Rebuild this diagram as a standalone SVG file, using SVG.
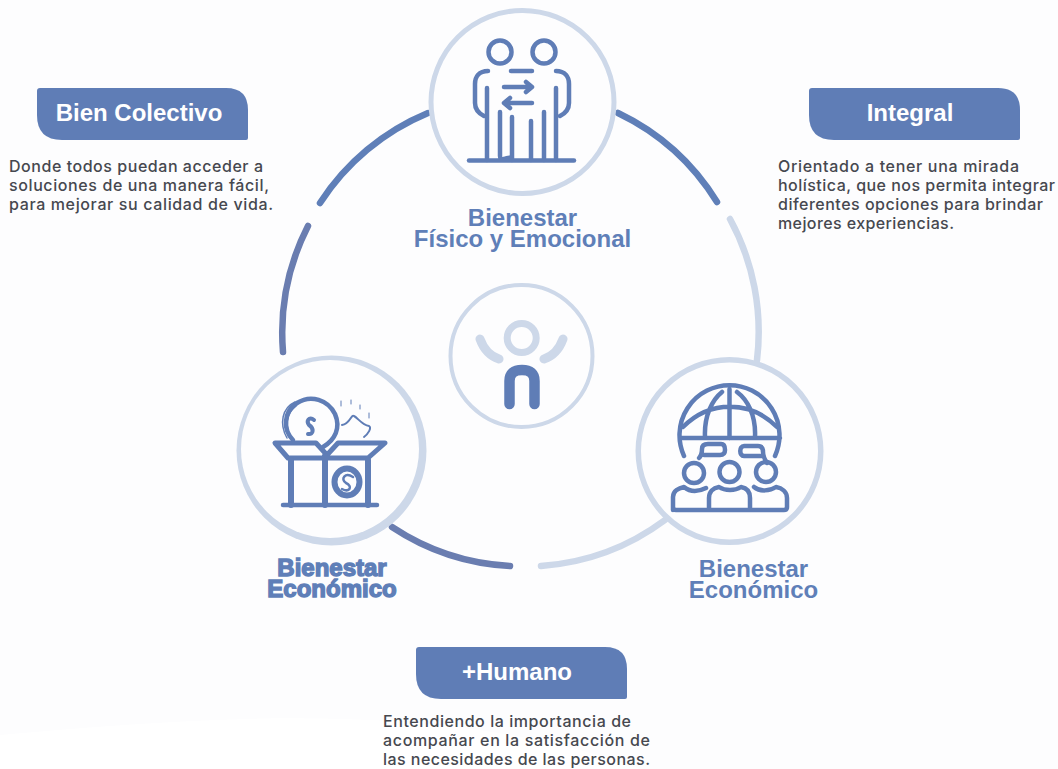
<svg xmlns="http://www.w3.org/2000/svg" width="1058" height="769" viewBox="0 0 1058 769">
<style>
.arc{fill:none;stroke-width:6.5;stroke-linecap:round}
.d{stroke:#5f7fb8}.p{stroke:#6a7db0}.l{stroke:#cdd8e9}
.ring{fill:#fdfdfe;stroke:#cdd8e9}
.ic{fill:none;stroke:#5f7db6;stroke-width:4.5;stroke-linecap:round;stroke-linejoin:round}
.box{fill:#5f7db6}
.bt{font:bold 24px "Liberation Sans",Arial,sans-serif;fill:#fff;text-anchor:middle}
.lab{font:bold 24px "Liberation Sans",Arial,sans-serif;fill:#5f7fb8;text-anchor:middle}
.body{font:500 16px Inter,"Open Sans",sans-serif;fill:#46484f}
</style>
<rect width="1058" height="769" fill="#fdfdfe"/>
<path d="M0 769V735C220 715 450 700 640 769Z" fill="#ffffff"/>
<g id="connectors">
<path class="arc d" d="M428 113A236 236 0 0 0 320 203"/>
<path class="arc d" d="M618 113A236 236 0 0 1 717 202"/>
<path class="arc l" d="M730 219A236 236 0 0 1 757 360"/>
<path class="arc l" d="M665 520A236 236 0 0 1 541 566"/>
<path class="arc p" d="M392 527A236 236 0 0 0 510 566"/>
<path class="arc p" d="M308 226A236 236 0 0 0 283 352"/>
</g>
<g id="node-fisico">
<circle class="ring" cx="522.500" cy="102" r="91.500" stroke-width="5"/>
<g class="ic">
<circle cx="500" cy="52" r="11.500"/><circle cx="544" cy="52" r="11.500"/>
<path d="M488 71C479 71 475 77 475 84V103C475 109 478 113 484 116M511 71H532M556 71C565 71 569 77 569 84V103C569 109 566 113 560 116"/>
<path d="M487 88V160M500 112V156Q500 160 504 159Q508 157 512 158M512 117V160M531 121V160M544 112V160M556 88V160"/>
<path d="M469 160.500H574"/>
<path d="M504 87H531M526 82L532 87L526 92M532 103H505M510 98L504 103L510 108"/>
</g>
</g>
<g id="node-economico-left">
<circle cx="331.500" cy="450.500" r="95" fill="#cdd8e9"/>
<circle cx="330" cy="449" r="89" fill="#fdfdfe"/>
<g class="ic">
<path d="M293 440C283 430 283 412 297 403C311 394 328 400 335 414C341 428 335 440 323 447"/>
<path d="M287 438C279 424 282 408 295 402M291 438C285 426 286 414 296 406" style="stroke-width:1.500"/>
<path d="M314 420C309 416 306 421 309 425C314 428 314 435 308 434" style="stroke-width:4"/>
<path d="M275 443H316L327 455L338 443H385L368 458H288Z" style="stroke-width:5"/>
<path d="M291 460V505M325 456V505M368 460V505" style="stroke-width:6"/>
<path d="M283 505H377"/>
<ellipse cx="347" cy="482" rx="12.500" ry="13.500" style="stroke-width:6"/>
<path d="M353 477C345 472 340 479 346 483C353 486 350 493 342 489" style="stroke-width:2.500"/>
<path d="M342 425C350 424 351 414 354 416C358 418 362 425 369 426C372 428 368 434 364 437" style="stroke-width:2"/>
<path d="M341 401V406M351 400V404M360 405V409M369 413V418" style="stroke-width:1"/>
</g>
</g>
<g id="node-economico-right">
<circle class="ring" cx="729.500" cy="451" r="91.250" stroke-width="5.500"/>
<g class="ic">
<path d="M684 456A50 50 0 1 1 775 456M680 438H780"/>
<path d="M683 427C710 400 750 400 777 427M729.500 389V438M705 437C704 416 712 400 722 392M755 437C756 416 748 400 737 392"/>
<path d="M699 458C701 456 702 454 702 449C702 445 705 444 708 444H721C724 444 725 446 725 450C725 454 723 455 720 455H704"/>
<path d="M744 446H758C762 446 763 449 763 452C763 455 765 460 767 463M744 446C739 446 739 456 744 456H762"/>
<circle cx="694" cy="473" r="10"/><circle cx="729.500" cy="472" r="10"/><circle cx="766" cy="472" r="10"/>
<path d="M673 510V497C673 491 679 488 684 487C690 492 698 492 706 488M709 510V498C709 492 713 488 719 487C725 491 735 491 741 487C747 488 750 492 750 498V510M754 487C760 492 770 491 776 487C782 488 787 492 787 498V507Q787 510 784 510H676Q673 510 673 507"/>
</g>
</g>
<g id="node-centro">
<circle cx="521.500" cy="356" r="71" fill="none" stroke="#cdd8e9" stroke-width="4"/>
<circle cx="521.700" cy="338" r="14.500" fill="none" stroke="#cdd8e9" stroke-width="7"/>
<path d="M480 339C484 350 490 356 499 359M563 339C559 350 553 356 544 359" fill="none" stroke="#cdd8e9" stroke-width="9" stroke-linecap="round"/>
<path d="M509.500 404V381Q509.500 370 522 370Q534.500 370 534.500 381V404" fill="none" stroke="#5f7db6" stroke-width="10.500" stroke-linecap="round"/>
</g>
<g id="label-fisico">
<text class="lab" x="522.500" y="226"><tspan x="522.500">Bienestar</tspan><tspan x="522.500" dy="21">Físico y Emocional</tspan></text>
</g>
<g id="label-eco-left" style="stroke:#5f7fb8;stroke-width:1.400">
<text class="lab" x="332" y="576"><tspan x="332">Bienestar</tspan><tspan x="332" dy="21">Económico</tspan></text>
</g>
<g id="label-eco-right">
<text class="lab" x="753.500" y="577"><tspan x="753.500">Bienestar</tspan><tspan x="753.500" dy="21">Económico</tspan></text>
</g>
<g id="card-bien">
<path class="box" d="M40 88H226Q248 88 248 110V138Q248 140 246 140H62Q37 140 37 115V91Q37 88 40 88Z"/>
<text class="bt" x="139" y="121">Bien Colectivo</text>
<text class="body" x="9" y="171.500" textLength="254">Donde todos puedan acceder a</text>
<text class="body" x="9" y="191" textLength="260">soluciones de una manera fácil,</text>
<text class="body" x="9" y="210" textLength="264">para mejorar su calidad de vida.</text>
</g>
<g id="card-integral">
<path class="box" d="M812 88H998Q1020 88 1020 110V138Q1020 140 1018 140H834Q809 140 809 115V91Q809 88 812 88Z"/>
<text class="bt" x="910" y="121">Integral</text>
<text class="body" x="778" y="172" textLength="241">Orientado a tener una mirada</text>
<text class="body" x="778" y="191" textLength="277">holística, que nos permita integrar</text>
<text class="body" x="778" y="210" textLength="265">diferentes opciones para brindar</text>
<text class="body" x="778" y="229" textLength="176">mejores experiencias.</text>
</g>
<g id="card-humano">
<path class="box" d="M419 647H605Q627 647 627 669V697Q627 699 625 699H441Q416 699 416 674V650Q416 647 419 647Z"/>
<text class="bt" x="517" y="680">+Humano</text>
<text class="body" x="383" y="726.500" textLength="248">Entendiendo la importancia de</text>
<text class="body" x="383" y="745.500" textLength="267">acompañar en la satisfacción de</text>
<text class="body" x="383" y="764.500" textLength="267">las necesidades de las personas.</text>
</g>
</svg>
